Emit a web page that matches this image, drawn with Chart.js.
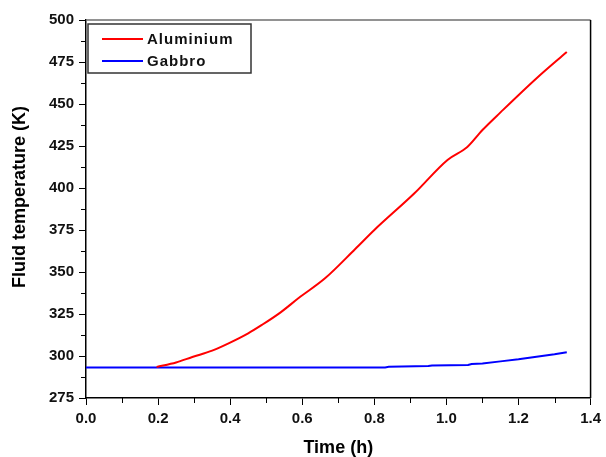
<!DOCTYPE html>
<html>
<head>
<meta charset="utf-8">
<script src="https://cdn.jsdelivr.net/npm/chart.js@4"></script>
<style>
  html, body { margin: 0; padding: 0; background: #fff; }
  #wrap { width: 606px; height: 457px; }
</style>
</head>
<body>
<div id="wrap"><canvas id="tempChart" width="606" height="457"></canvas></div>
<script>
// values
const alTime = [0.196, 0.25, 0.295, 0.35, 0.397, 0.45, 0.488, 0.54, 0.59, 0.664, 0.747, 0.8, 0.912, 1.003, 1.058, 1.1, 1.15, 1.251, 1.334];
const alTemp = [293.5, 296.1, 299.4, 303.2, 307.7, 313.5, 318.5, 326, 334.5, 346.4, 363.7, 375, 397, 416.7, 424.4, 434.5, 445, 465.5, 481];
const gbTime = [0, 0.83, 0.84, 0.95, 0.96, 1.06, 1.07, 1.1, 1.15, 1.2, 1.25, 1.3, 1.334];
const gbTemp = [293.2, 293.2, 293.6, 294, 294.4, 294.6, 295.2, 295.6, 296.8, 298, 299.5, 301, 302.2];

const xTitle = 'Time (h)';
const yTitle = 'Fluid temperature (K)';
const FONT = "'Liberation Sans', Arial, sans-serif";

const toPoints = (xs, ys) => xs.map((x, i) => ({ x: x, y: ys[i] }));

// minor ticks, frame, y title and boxed legend
const extras = {
  id: 'extras',
  afterDraw(chart) {
    const { ctx, chartArea: a, scales: { x, y } } = chart;
    ctx.save();
    ctx.strokeStyle = '#000';
    ctx.lineWidth = 1;
    ctx.beginPath();
    for (let v = 0.1; v < 1.4; v += 0.2) {
      const px = Math.round(x.getPixelForValue(v)) + 0.5;
      ctx.moveTo(px, a.bottom); ctx.lineTo(px, a.bottom + 5);
    }
    for (let v = 287.5; v < 500; v += 25) {
      const py = Math.round(y.getPixelForValue(v)) + 0.5;
      ctx.moveTo(a.left, py); ctx.lineTo(a.left - 5, py);
    }
    ctx.stroke();

    // top (grey) and right (black) frame
    ctx.lineWidth = 1.5;
    ctx.strokeStyle = '#6e6e6e';
    ctx.beginPath();
    ctx.moveTo(a.left, a.top); ctx.lineTo(a.right, a.top);
    ctx.stroke();
    ctx.strokeStyle = '#000';
    ctx.beginPath();
    ctx.moveTo(a.right, a.top); ctx.lineTo(a.right, a.bottom);
    ctx.stroke();

    // y axis title, sits a bit above the middle like in the original
    ctx.save();
    ctx.translate(20, 197);
    ctx.rotate(-Math.PI / 2);
    ctx.font = 'bold 18px ' + FONT;
    ctx.fillStyle = '#000';
    ctx.textAlign = 'center';
    ctx.textBaseline = 'middle';
    ctx.fillText(yTitle, 0, 0);
    ctx.restore();

    // legend box
    const bx = 88, by = 24, bw = 163, bh = 49;
    ctx.lineWidth = 1.5;
    ctx.strokeStyle = '#333';
    ctx.strokeRect(bx, by, bw, bh);
    ctx.font = 'bold 15px ' + FONT;
    ctx.textBaseline = 'middle';
    ctx.letterSpacing = '1px';
    chart.data.datasets.forEach((ds, i) => {
      const ly = 39 + i * 22;
      ctx.strokeStyle = ds.borderColor;
      ctx.lineWidth = 2;
      ctx.beginPath();
      ctx.moveTo(102, ly); ctx.lineTo(143, ly);
      ctx.stroke();
      ctx.fillStyle = '#111';
      ctx.fillText(ds.label, 147, ly + 1);
    });
    ctx.restore();
  }
};

new Chart(document.getElementById('tempChart').getContext('2d'), {
  type: 'line',
  data: {
    datasets: [
      { label: 'Aluminium', data: toPoints(alTime, alTemp), borderColor: '#ff0000', borderWidth: 2, pointRadius: 0, cubicInterpolationMode: 'monotone' },
      { label: 'Gabbro', data: toPoints(gbTime, gbTemp), borderColor: '#0000ff', borderWidth: 2, pointRadius: 0, tension: 0 },
    ],
  },
  options: {
    responsive: false,
    animation: false,
    layout: { padding: { top: 20, right: 12, left: 0, bottom: 0 } },
    plugins: { legend: { display: false }, tooltip: { enabled: false } },
    scales: {
      x: {
        type: 'linear',
        min: 0, max: 1.4,
        afterFit: (s) => { s.height = 59; },
        border: { color: '#000', width: 1.5 },
        grid: { drawOnChartArea: false, drawTicks: true, tickLength: 7, tickColor: '#000' },
        ticks: {
          stepSize: 0.2, padding: 5, color: '#111',
          font: { family: FONT, size: 15, weight: 'bold' },
          callback: (v) => v.toFixed(1),
        },
        title: { display: true, text: xTitle, color: '#000', padding: { top: 0, bottom: 0 },
                 font: { family: FONT, size: 18, weight: 'bold', lineHeight: 1 } },
      },
      y: {
        min: 275, max: 500,
        afterFit: (s) => { s.width = 86; },
        border: { color: '#000', width: 1.5 },
        grid: { drawOnChartArea: false, drawTicks: true, tickLength: 7, tickColor: '#000' },
        ticks: {
          stepSize: 25, padding: 5, color: '#111',
          font: { family: FONT, size: 15, weight: 'bold' },
        },
      },
    },
  },
  plugins: [extras],
});
</script>
</body>
</html>
